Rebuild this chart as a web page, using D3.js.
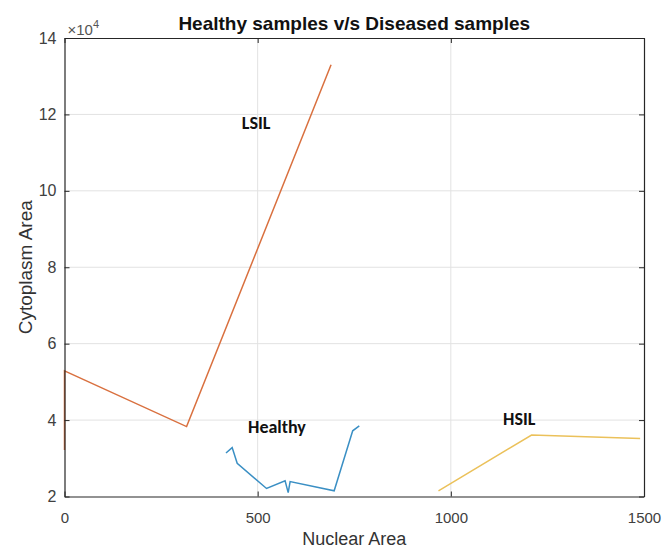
<!DOCTYPE html>
<html>
<head>
<meta charset="utf-8">
<script src="https://cdn.jsdelivr.net/npm/d3@7"></script>
<style>
  body { margin: 0; background: #fff; }
  text { font-family: "Liberation Sans", Arial, sans-serif; }
</style>
</head>
<body>
<div id="chart"></div>
<script>
// values (y in units of 1e4)
const healthyX = [418, 434, 447, 523, 571, 579, 584, 698, 746, 763];
const healthyY = [3.14, 3.28, 2.87, 2.21, 2.41, 2.10, 2.39, 2.15, 3.72, 3.85];
const lsilX = [0, 0, 316, 690];
const lsilY = [3.22, 5.29, 3.83, 13.30];
const hsilX = [968, 1209, 1490];
const hsilY = [2.15, 3.61, 3.52];
const xTicks = [0, 500, 1000, 1500];
const yTicks = [2, 4, 6, 8, 10, 12, 14];

const series = [
    { name: "Healthy", xs: healthyX, ys: healthyY, color: "#3a8fc4", label: [550, 3.66] },
    { name: "LSIL", xs: lsilX, ys: lsilY, color: "#d9703f", label: [496, 11.62] },
    { name: "HSIL", xs: hsilX, ys: hsilY, color: "#ebc15a", label: [1177, 3.87] }
];

const W = 664, H = 551;
const margin = { top: 38, right: 20, bottom: 54.5, left: 64.5 };

const svg = d3.select("#chart").append("svg")
    .attr("width", W)
    .attr("height", H);

const x = d3.scaleLinear().domain([0, 1500]).range([margin.left, W - margin.right]);
const y = d3.scaleLinear().domain([2, 14]).range([H - margin.bottom, margin.top]);

// grid
svg.append("g").selectAll("line")
    .data(xTicks.slice(1, -1))
    .enter().append("line")
    .attr("x1", d => x(d)).attr("x2", d => x(d))
    .attr("y1", y(2)).attr("y2", y(14))
    .attr("stroke", "#e2e2e2");
svg.append("g").selectAll("line")
    .data(yTicks.slice(1, -1))
    .enter().append("line")
    .attr("x1", x(0)).attr("x2", x(1500))
    .attr("y1", d => y(d)).attr("y2", d => y(d))
    .attr("stroke", "#e2e2e2");

// lines
const line = d3.line().x(d => x(d[0])).y(d => y(d[1]));
series.forEach(s => {
    const pts = s.xs.map((v, i) => [v, s.ys[i]]);
    svg.append("path")
        .datum(pts)
        .attr("d", line)
        .attr("fill", "none")
        .attr("stroke", s.color)
        .attr("stroke-width", 1.5);
    svg.append("text")
        .attr("x", x(s.label[0]))
        .attr("y", y(s.label[1]))
        .attr("text-anchor", "middle")
        .style("font-family", "Carlito, 'Open Sans', sans-serif")
        .style("font-weight", "bold")
        .style("font-size", "18px")
        .attr("fill", "#111")
        .text(s.name);
});

// axes with inward ticks (box on all sides)
const axisColor = "#262626";
function styleAxis(g) {
    g.select(".domain").attr("stroke", axisColor).attr("stroke-width", 1.2);
    g.selectAll(".tick line").attr("stroke", axisColor);
    g.selectAll(".tick text")
        .attr("fill", "#404040")
        .style("font-size", "15px")
        .style("font-family", "'Liberation Sans', Arial, sans-serif");
}
svg.append("g")
    .attr("transform", `translate(0,${y(2)})`)
    .call(d3.axisBottom(x).tickValues(xTicks).tickFormat(d3.format("d"))
        .tickSizeInner(-5).tickSizeOuter(0).tickPadding(16))
    .call(styleAxis);
svg.append("g")
    .attr("transform", `translate(${x(0)},0)`)
    .call(d3.axisLeft(y).tickValues(yTicks).tickSizeInner(-5).tickSizeOuter(0).tickPadding(8))
    .call(styleAxis)
    .call(g => g.selectAll(".tick text").style("font-size", "16px"));
svg.append("g")
    .attr("transform", `translate(0,${y(14)})`)
    .call(d3.axisTop(x).tickValues(xTicks).tickSizeInner(-5).tickSizeOuter(0).tickFormat(""))
    .call(styleAxis);
svg.append("g")
    .attr("transform", `translate(${x(1500)},0)`)
    .call(d3.axisRight(y).tickValues(yTicks).tickSizeInner(-5).tickSizeOuter(0).tickFormat(""))
    .call(styleAxis);

// exponent label
const ex = svg.append("text")
    .attr("x", x(0) + 3)
    .attr("y", y(14) - 3)
    .attr("fill", "#555")
    .style("font-size", "15px");
ex.append("tspan").text("\u00d710");
ex.append("tspan").attr("dy", -7).style("font-size", "11px").text("4");

// title
svg.append("text")
    .attr("x", (x(0) + x(1500)) / 2)
    .attr("y", 30)
    .attr("text-anchor", "middle")
    .style("font-size", "19px")
    .style("font-weight", "bold")
    .attr("fill", "#111")
    .text("Healthy samples v/s Diseased samples");

// axis labels
svg.append("text")
    .attr("x", (x(0) + x(1500)) / 2)
    .attr("y", 545)
    .attr("text-anchor", "middle")
    .style("font-size", "18px")
    .attr("fill", "#333")
    .text("Nuclear Area");
svg.append("text")
    .attr("transform", `translate(31.5,${(y(2) + y(14)) / 2}) rotate(-90)`)
    .attr("text-anchor", "middle")
    .style("font-size", "19px")
    .attr("fill", "#333")
    .text("Cytoplasm Area");
</script>
</body>
</html>
